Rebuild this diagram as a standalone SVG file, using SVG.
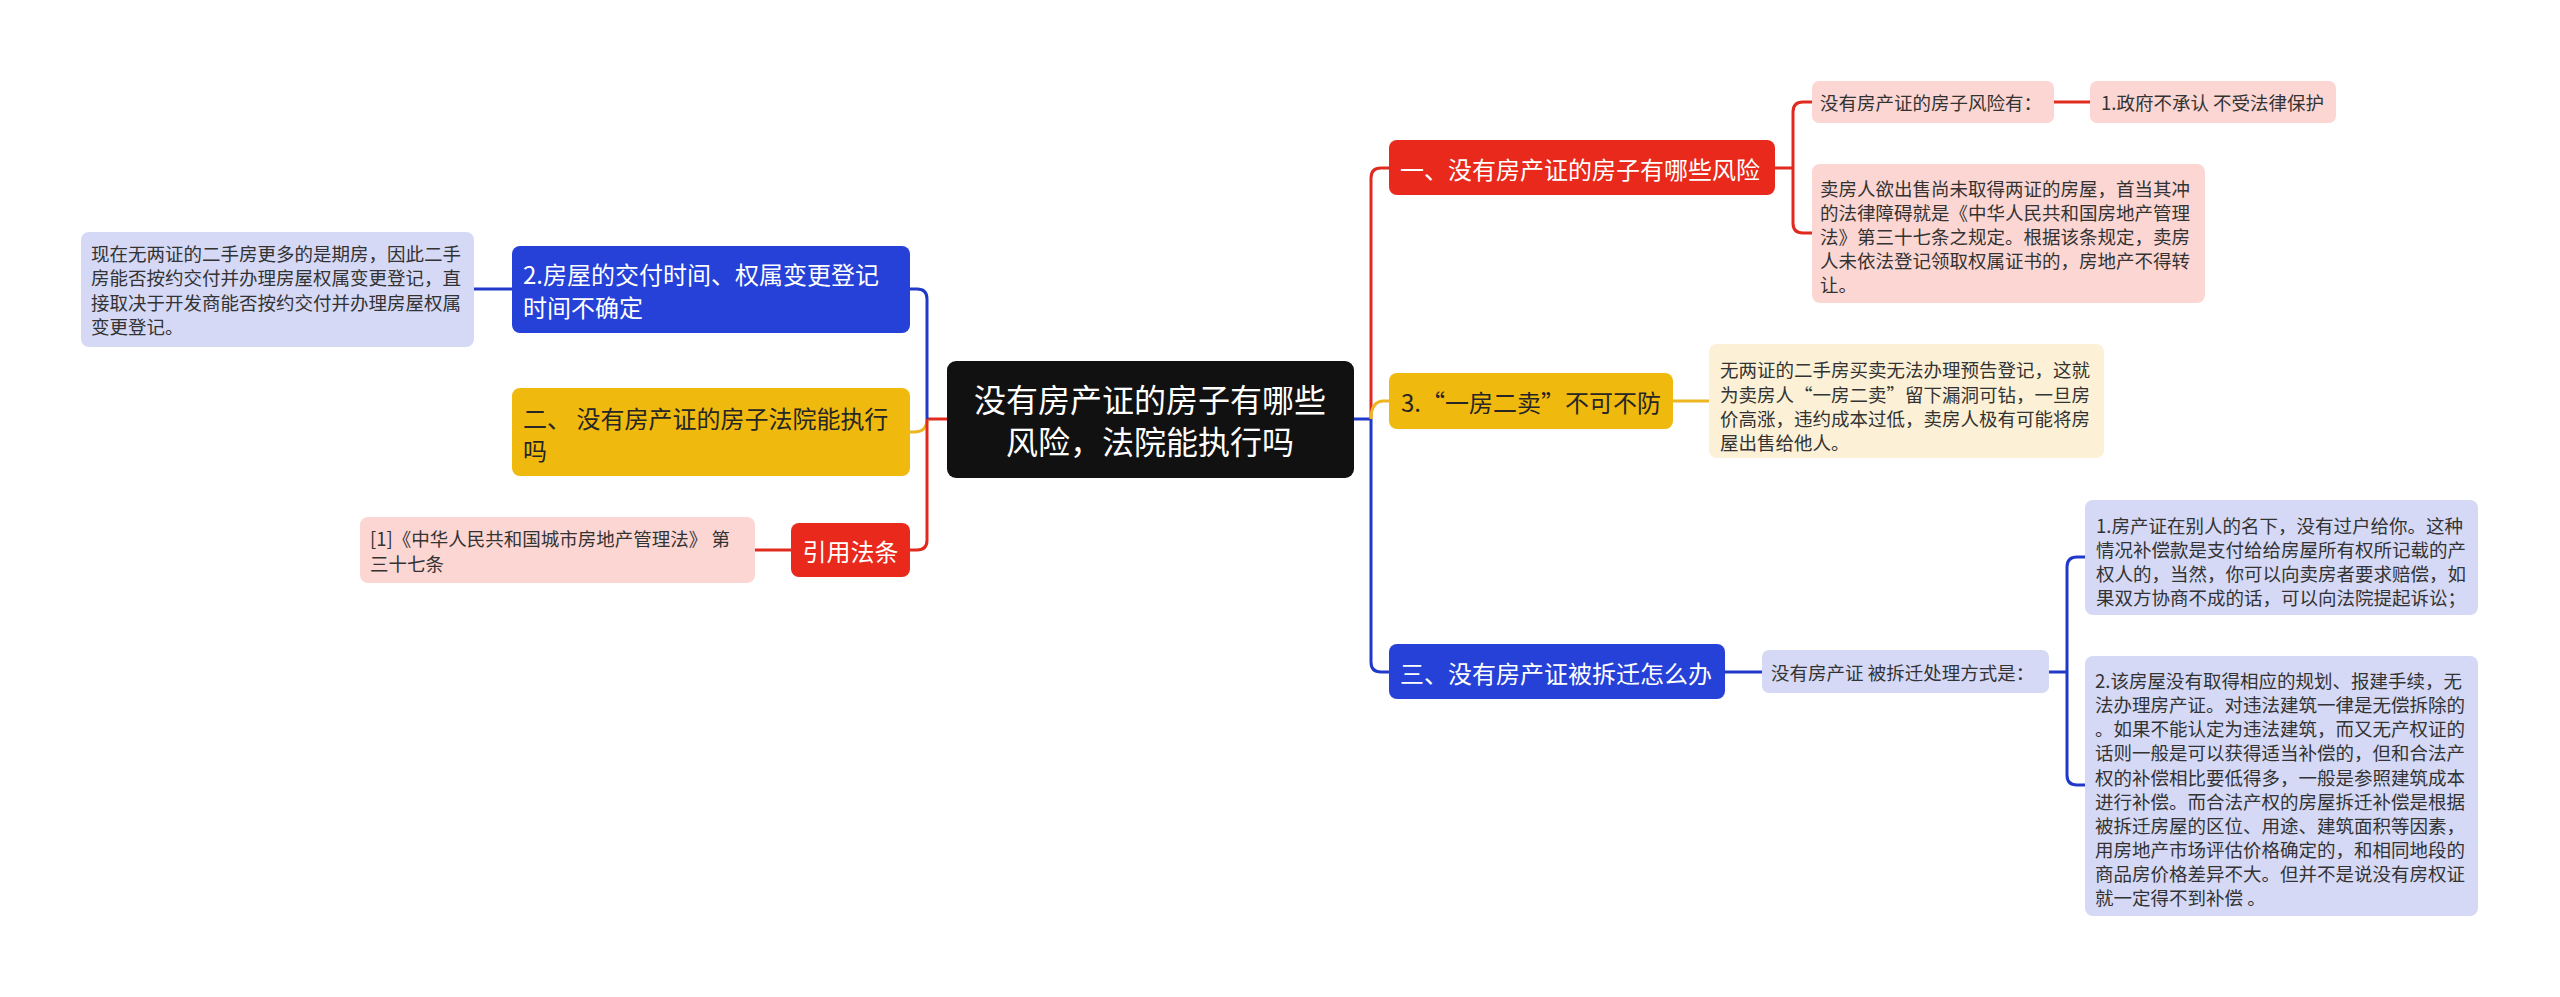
<svg xmlns="http://www.w3.org/2000/svg" width="2560" height="997" viewBox="0 0 2560 997">
<style>
text{font-family:"Noto Sans CJK SC","Noto Sans",sans-serif;dominant-baseline:central}
.c{fill:#111111}
.r{fill:#E8291C}
.b{fill:#2541D8}
.y{fill:#F0B90E}
.pk{fill:#FCD6D2}
.lv{fill:#D5D9F6}
.cr{fill:#FCF1D6}
.tw{fill:#ffffff;font-size:24px}
.td{fill:#262626;font-size:24px}
.tn{fill:#333333;font-size:18.5px}
.lr{stroke:#E02A1E;stroke-width:3;fill:none}
.lb{stroke:#2039C9;stroke-width:3;fill:none}
.ly{stroke:#EDB520;stroke-width:3;fill:none}
</style>
<rect width="2560" height="997" fill="#ffffff"/>
<g id="connectors">
<path class="lr" d="M947 419 H927"/>
<path class="lb" d="M927 419 V299 Q927 289 917 289 H910"/>
<path class="ly" d="M927 419 Q927 432 914 432 H910"/>
<path class="lr" d="M927 419 V540 Q927 550 917 550 H910"/>
<path class="lb" d="M474 289 H512"/>
<path class="lr" d="M755 550 H791"/>
<path class="lb" d="M1354 419 H1371"/>
<path class="lr" d="M1371 419 V178 Q1371 168 1381 168 H1389"/>
<path class="ly" d="M1371 419 Q1371 401 1384 401 H1389"/>
<path class="lb" d="M1371 419 V662 Q1371 672 1381 672 H1389"/>
<path class="lr" d="M1775 168 H1793"/>
<path class="lr" d="M1793 168 V112 Q1793 102 1803 102 H1812"/>
<path class="lr" d="M1793 168 V223 Q1793 233 1803 233 H1812"/>
<path class="lr" d="M2054 102 H2090"/>
<path class="ly" d="M1673 401 H1709"/>
<path class="lb" d="M1725 672 H1762"/>
<path class="lb" d="M2049 672 H2067"/>
<path class="lb" d="M2067 672 V567 Q2067 557 2077 557 H2085"/>
<path class="lb" d="M2067 672 V775 Q2067 785 2077 785 H2085"/>
</g>
<g id="central">
<rect class="c" x="947" y="361" width="407" height="117" rx="9"/>
<text x="1150" y="398" fill="#ffffff" font-size="32" text-anchor="middle">没有房产证的房子有哪些</text>
<text x="1150" y="440" fill="#ffffff" font-size="32" text-anchor="middle">风险，法院能执行吗</text>
</g>
<g id="left-blue">
<rect class="b" x="512" y="246" width="398" height="87" rx="8"/>
<text class="tw" x="523" y="273">2.房屋的交付时间、权属变更登记</text>
<text class="tw" x="523" y="306">时间不确定</text>
</g>
<g id="left-blue-note">
<rect class="lv" x="81" y="232" width="393" height="115" rx="8"/>
<text class="tn" x="91" y="253">现在无两证的二手房更多的是期房，因此二手</text>
<text class="tn" x="91" y="277">房能否按约交付并办理房屋权属变更登记，直</text>
<text class="tn" x="91" y="302">接取决于开发商能否按约交付并办理房屋权属</text>
<text class="tn" x="91" y="326">变更登记。</text>
</g>
<g id="left-yellow">
<rect class="y" x="512" y="388" width="398" height="88" rx="8"/>
<text class="td" x="523" y="417">二、 没有房产证的房子法院能执行</text>
<text class="td" x="523" y="449">吗</text>
</g>
<g id="left-red">
<rect class="r" x="791" y="523" width="119" height="54" rx="8"/>
<text class="tw" x="850.5" y="550" text-anchor="middle">引用法条</text>
</g>
<g id="left-red-note">
<rect class="pk" x="360" y="517" width="395" height="66" rx="8"/>
<text class="tn" x="370" y="538">[1]《中华人民共和国城市房地产管理法》 第</text>
<text class="tn" x="370" y="563">三十七条</text>
</g>
<g id="right-red">
<rect class="r" x="1389" y="140" width="386" height="55" rx="8"/>
<text class="tw" x="1400" y="168">一、没有房产证的房子有哪些风险</text>
</g>
<g id="risk-title">
<rect class="pk" x="1812" y="81" width="242" height="42" rx="7"/>
<text class="tn" x="1820" y="102">没有房产证的房子风险有：</text>
</g>
<g id="risk-1">
<rect class="pk" x="2090" y="81" width="246" height="42" rx="7"/>
<text class="tn" x="2101" y="102">1.政府不承认 不受法律保护</text>
</g>
<g id="risk-law">
<rect class="pk" x="1812" y="164" width="393" height="139" rx="8"/>
<text class="tn" x="1820" y="188">卖房人欲出售尚未取得两证的房屋，首当其冲</text>
<text class="tn" x="1820" y="212">的法律障碍就是《中华人民共和国房地产管理</text>
<text class="tn" x="1820" y="236">法》第三十七条之规定。根据该条规定，卖房</text>
<text class="tn" x="1820" y="260">人未依法登记领取权属证书的，房地产不得转</text>
<text class="tn" x="1820" y="284">让。</text>
</g>
<g id="right-yellow">
<rect class="y" x="1389" y="373" width="284" height="56" rx="8"/>
<text class="td" x="1401" y="401">3.“一房二卖”不可不防</text>
</g>
<g id="right-yellow-note">
<rect class="cr" x="1709" y="344" width="395" height="114" rx="8"/>
<text class="tn" x="1720" y="369">无两证的二手房买卖无法办理预告登记，这就</text>
<text class="tn" x="1720" y="394">为卖房人“一房二卖”留下漏洞可钻，一旦房</text>
<text class="tn" x="1720" y="418">价高涨，违约成本过低，卖房人极有可能将房</text>
<text class="tn" x="1720" y="442">屋出售给他人。</text>
</g>
<g id="right-blue">
<rect class="b" x="1389" y="644" width="336" height="55" rx="8"/>
<text class="tw" x="1400" y="672">三、没有房产证被拆迁怎么办</text>
</g>
<g id="demolition-title">
<rect class="lv" x="1762" y="650" width="287" height="43" rx="7"/>
<text class="tn" x="1771" y="672">没有房产证 被拆迁处理方式是：</text>
</g>
<g id="demolition-1">
<rect class="lv" x="2085" y="500" width="393" height="115" rx="8"/>
<text class="tn" x="2096" y="525">1.房产证在别人的名下，没有过户给你。这种</text>
<text class="tn" x="2096" y="549">情况补偿款是支付给给房屋所有权所记载的产</text>
<text class="tn" x="2096" y="573">权人的，当然，你可以向卖房者要求赔偿，如</text>
<text class="tn" x="2096" y="597">果双方协商不成的话，可以向法院提起诉讼；</text>
</g>
<g id="demolition-2">
<rect class="lv" x="2085" y="656" width="393" height="260" rx="8"/>
<text class="tn" x="2095" y="680">2.该房屋没有取得相应的规划、报建手续，无</text>
<text class="tn" x="2095" y="704">法办理房产证。对违法建筑一律是无偿拆除的</text>
<text class="tn" x="2095" y="728">。如果不能认定为违法建筑，而又无产权证的</text>
<text class="tn" x="2095" y="752">话则一般是可以获得适当补偿的，但和合法产</text>
<text class="tn" x="2095" y="777">权的补偿相比要低得多，一般是参照建筑成本</text>
<text class="tn" x="2095" y="801">进行补偿。而合法产权的房屋拆迁补偿是根据</text>
<text class="tn" x="2095" y="825">被拆迁房屋的区位、用途、建筑面积等因素，</text>
<text class="tn" x="2095" y="849">用房地产市场评估价格确定的，和相同地段的</text>
<text class="tn" x="2095" y="873">商品房价格差异不大。但并不是说没有房权证</text>
<text class="tn" x="2095" y="897">就一定得不到补偿 。</text>
</g>
</svg>
